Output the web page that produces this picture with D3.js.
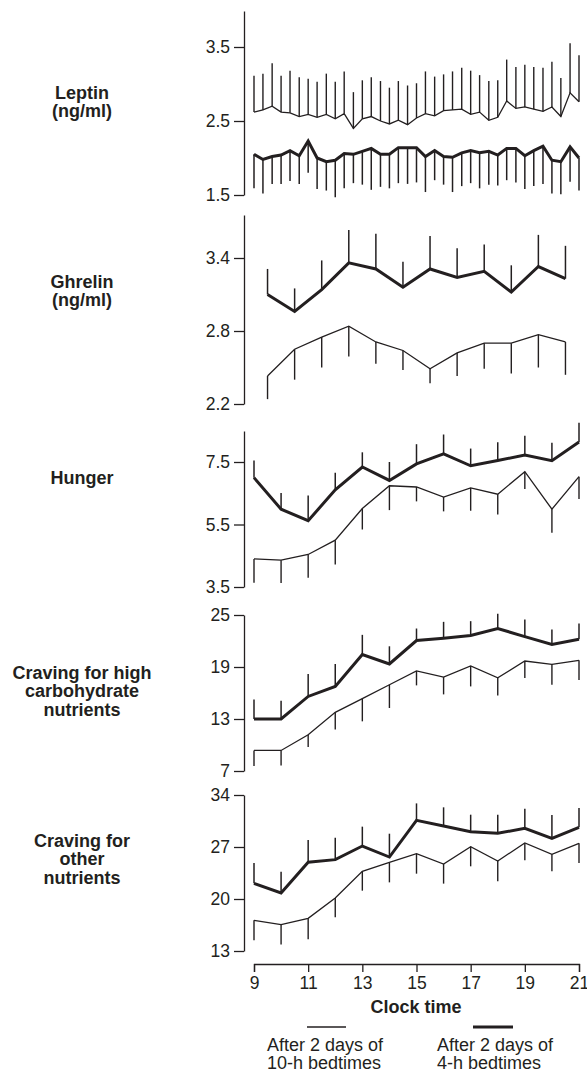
<!DOCTYPE html>
<html>
<head>
<meta charset="utf-8">
<script src="https://cdn.jsdelivr.net/npm/d3@7"></script>
<style>
  body { margin: 0; background: #fff; }
  svg { display: block; font-family: "Liberation Sans", Arial, Helvetica, sans-serif; }
  .tick text { font-size: 17.5px; fill: #231f20; }
  .tick line, .domain { stroke: #231f20; stroke-width: 1.3; }
  .title { font-size: 18px; font-weight: bold; fill: #231f20; }
  .legend { font-size: 18px; fill: #231f20; }
</style>
</head>
<body>
<div id="chart"></div>
<script>
// clock hours of the samples
var leptinHours = [9, 9.33, 9.67, 10, 10.33, 10.67, 11, 11.33, 11.67, 12, 12.33, 12.67,
    13, 13.33, 13.67, 14, 14.33, 14.67, 15, 15.33, 15.67, 16, 16.33, 16.67,
    17, 17.33, 17.67, 18, 18.33, 18.67, 19, 19.33, 19.67, 20, 20.33, 20.67, 21];
var ghrelinHours = [9.5, 10.5, 11.5, 12.5, 13.5, 14.5, 15.5, 16.5, 17.5, 18.5, 19.5, 20.5];
var hourlyHours = [9, 10, 11, 12, 13, 14, 15, 16, 17, 18, 19, 20, 21];
var clockTicks = [9, 11, 13, 15, 17, 19, 21];

// leptin (ng/ml)
var leptin10 = [2.62, 2.65, 2.70, 2.62, 2.61, 2.56, 2.59, 2.55, 2.59, 2.53, 2.60, 2.40,
    2.53, 2.56, 2.50, 2.46, 2.51, 2.45, 2.54, 2.60, 2.57, 2.64, 2.65, 2.66,
    2.59, 2.62, 2.51, 2.55, 2.77, 2.67, 2.69, 2.66, 2.63, 2.69, 2.56, 2.88, 2.76];
var leptin10Sem = [0.49, 0.49, 0.58, 0.49, 0.57, 0.53, 0.48, 0.48, 0.55, 0.50, 0.57, 0.49,
    0.52, 0.53, 0.54, 0.49, 0.53, 0.53, 0.47, 0.57, 0.53, 0.49, 0.52, 0.56,
    0.59, 0.50, 0.53, 0.50, 0.56, 0.56, 0.57, 0.57, 0.59, 0.61, 0.52, 0.67, 0.63];
var leptin4 = [2.05, 1.98, 2.02, 2.04, 2.10, 2.03, 2.23, 2.00, 1.95, 1.97, 2.06, 2.05,
    2.09, 2.13, 2.05, 2.05, 2.14, 2.14, 2.14, 2.02, 2.10, 2.02, 2.01, 2.07,
    2.10, 2.07, 2.09, 2.04, 2.13, 2.13, 2.03, 2.10, 2.16, 1.97, 1.95, 2.15, 2.00];
var leptin4Sem = [0.46, 0.46, 0.37, 0.39, 0.41, 0.38, 0.43, 0.42, 0.39, 0.50, 0.47, 0.39,
    0.45, 0.56, 0.44, 0.46, 0.48, 0.49, 0.47, 0.48, 0.40, 0.38, 0.47, 0.45,
    0.44, 0.48, 0.45, 0.41, 0.43, 0.46, 0.45, 0.48, 0.51, 0.45, 0.44, 0.47, 0.44];

// ghrelin (ng/ml)
var ghrelin10 = [2.43, 2.65, 2.75, 2.84, 2.71, 2.64, 2.49, 2.62, 2.70, 2.70, 2.77, 2.71];
var ghrelin10Sem = [0.19, 0.25, 0.25, 0.25, 0.18, 0.16, 0.12, 0.19, 0.21, 0.25, 0.27, 0.27];
var ghrelin4 = [3.10, 2.96, 3.14, 3.36, 3.31, 3.16, 3.31, 3.24, 3.29, 3.12, 3.33, 3.23];
var ghrelin4Sem = [0.21, 0.19, 0.24, 0.27, 0.29, 0.21, 0.27, 0.24, 0.22, 0.22, 0.26, 0.27];

// hunger
var hunger10 = [4.40, 4.36, 4.54, 5.00, 6.01, 6.74, 6.70, 6.38, 6.67, 6.47, 7.19, 5.99, 7.03];
var hunger10Sem = [0.76, 0.73, 0.74, 0.78, 0.67, 0.78, 0.46, 0.46, 0.73, 0.65, 0.55, 0.75, 0.71];
var hunger4 = [7.00, 5.99, 5.62, 6.61, 7.34, 6.91, 7.44, 7.76, 7.38, 7.55, 7.72, 7.54, 8.14];
var hunger4Sem = [0.55, 0.52, 0.81, 0.55, 0.47, 0.59, 0.63, 0.62, 0.55, 0.58, 0.62, 0.58, 0.62];

// craving for high carbohydrate nutrients
var carb10 = [9.37, 9.37, 11.19, 13.77, 15.36, 16.95, 18.54, 17.84, 19.12, 17.76, 19.69, 19.31, 19.77];
var carb10Sem = [1.78, 1.74, 1.43, 1.97, 2.63, 2.68, 1.66, 2.00, 2.36, 2.04, 1.96, 2.36, 2.28];
var carb4 = [13.0, 13.0, 15.60, 16.76, 20.43, 19.35, 22.05, 22.32, 22.63, 23.44, 22.51, 21.59, 22.20];
var carb4Sem = [2.24, 2.12, 2.59, 2.59, 2.28, 2.04, 1.39, 1.89, 1.66, 1.70, 1.97, 1.73, 1.82];

// craving for other nutrients
var other10 = [17.13, 16.55, 17.40, 20.13, 23.72, 24.93, 26.10, 24.71, 27.04, 25.12, 27.54, 26.01, 27.49];
var other10Sem = [2.69, 2.69, 2.83, 2.60, 2.60, 2.69, 2.69, 2.64, 2.64, 2.74, 2.33, 2.29, 2.64];
var other4 = [22.11, 20.81, 24.94, 25.30, 27.13, 25.65, 30.59, 29.83, 29.06, 28.84, 29.51, 28.17, 29.65];
var other4Sem = [2.74, 2.87, 3.00, 2.96, 2.61, 3.14, 2.28, 2.51, 2.29, 2.51, 2.65, 3.13, 2.60];

var ink = "#231f20";

var svg = d3.select("#chart")
    .append("svg")
    .attr("width", 587)
    .attr("height", 1072);

var x = d3.scaleLinear().domain([9, 21]).range([254, 579]);

// each panel: its own y scale, from the bottom tick pixel up to the axis top
var panels = [
    { title: ["Leptin", "(ng/ml)"], titleY: 99, ticks: [1.5, 2.5, 3.5], top: 11, bottom: 195, yTop: 47,
      hours: leptinHours, a: leptin10, aSem: leptin10Sem, b: leptin4, bSem: leptin4Sem },
    { title: ["Ghrelin", "(ng/ml)"], titleY: 288, ticks: [2.2, 2.8, 3.4], top: 215, bottom: 404, yTop: 258,
      hours: ghrelinHours, a: ghrelin10, aSem: ghrelin10Sem, b: ghrelin4, bSem: ghrelin4Sem },
    { title: ["Hunger"], titleY: 484, ticks: [3.5, 5.5, 7.5], top: 431, bottom: 587, yTop: 462,
      hours: hourlyHours, a: hunger10, aSem: hunger10Sem, b: hunger4, bSem: hunger4Sem },
    { title: ["Craving for high", "carbohydrate", "nutrients"], titleY: 679, ticks: [7, 13, 19, 25], top: 615, bottom: 771, yTop: 615,
      hours: hourlyHours, a: carb10, aSem: carb10Sem, b: carb4, bSem: carb4Sem },
    { title: ["Craving for", "other", "nutrients"], titleY: 847, ticks: [13, 20, 27, 34], top: 795, bottom: 951, yTop: 795,
      hours: hourlyHours, a: other10, aSem: other10Sem, b: other4, bSem: other4Sem }
];

panels.forEach(function (p) {
    var lo = p.ticks[0];
    var hi = p.ticks[p.ticks.length - 1];
    var pxPerUnit = (p.bottom - p.yTop) / (hi - lo);
    var domTop = hi + (p.yTop - p.top) / pxPerUnit;
    var y = d3.scaleLinear().domain([lo, domTop]).range([p.bottom, p.top]);

    var g = svg.append("g");

    g.append("g")
        .attr("transform", "translate(244,0)")
        .call(d3.axisLeft(y).tickValues(p.ticks).tickSize(10).tickSizeOuter(0).tickPadding(4)
            .tickFormat(function (d) { return (d % 1 === 0 && lo % 1 === 0) ? d : d3.format(".1f")(d); }))
        .call(function (s) { s.selectAll("text").attr("font-family", null).attr("font-size", null); });

    // title
    var t = g.append("text")
        .attr("class", "title")
        .attr("text-anchor", "middle")
        .attr("x", 82)
        .attr("y", p.titleY);
    p.title.forEach(function (line, i) {
        t.append("tspan").attr("x", 82).attr("dy", i === 0 ? 0 : 18.3).text(line);
    });

    var line = d3.line()
        .x(function (d) { return x(d[0]); })
        .y(function (d) { return y(d[1]); });

    // 10-h bedtimes: thin line
    var aPts = p.hours.map(function (h, i) { return [h, p.a[i], p.aSem[i]]; });
    // 4-h bedtimes: thick line
    var bPts = p.hours.map(function (h, i) { return [h, p.b[i], p.bSem[i]]; });

    // bars point away from the other series
    var aDir = p.title[0] === "Leptin" ? 1 : -1;
    var bDir = -aDir;

    g.selectAll(".barA")
        .data(aPts)
        .enter()
        .append("line")
        .attr("x1", function (d) { return x(d[0]); })
        .attr("x2", function (d) { return x(d[0]); })
        .attr("y1", function (d) { return y(d[1]); })
        .attr("y2", function (d) { return y(d[1] + aDir * d[2]); })
        .attr("stroke", ink)
        .attr("stroke-width", 1.4);

    g.selectAll(".barB")
        .data(bPts)
        .enter()
        .append("line")
        .attr("x1", function (d) { return x(d[0]); })
        .attr("x2", function (d) { return x(d[0]); })
        .attr("y1", function (d) { return y(d[1]); })
        .attr("y2", function (d) { return y(d[1] + bDir * d[2]); })
        .attr("stroke", ink)
        .attr("stroke-width", 1.5);

    g.append("path")
        .datum(aPts)
        .attr("fill", "none")
        .attr("stroke", ink)
        .attr("stroke-width", 1.3)
        .attr("d", line);

    g.append("path")
        .datum(bPts)
        .attr("fill", "none")
        .attr("stroke", ink)
        .attr("stroke-width", 3)
        .attr("d", line);
});

// x axis
svg.append("g")
    .attr("transform", "translate(0,964)")
    .call(d3.axisBottom(x).tickValues(clockTicks).tickSize(8).tickSizeOuter(8).tickPadding(5))
    .call(function (s) { s.selectAll("text").attr("font-family", null).attr("font-size", null); });

svg.append("text")
    .attr("class", "title")
    .attr("text-anchor", "middle")
    .attr("x", 416)
    .attr("y", 1013)
    .text("Clock time");

// legend
var legendItems = [
    { x: 267, x1: 307, x2: 346, width: 1.3, lines: ["After 2 days of", "10-h bedtimes"] },
    { x: 437, x1: 473, x2: 513, width: 3, lines: ["After 2 days of", "4-h bedtimes"] }
];
legendItems.forEach(function (it) {
    svg.append("line")
        .attr("x1", it.x1).attr("x2", it.x2)
        .attr("y1", 1027).attr("y2", 1027)
        .attr("stroke", ink)
        .attr("stroke-width", it.width);
    var t = svg.append("text")
        .attr("class", "legend")
        .attr("x", it.x)
        .attr("y", 1051);
    it.lines.forEach(function (l, i) {
        t.append("tspan").attr("x", it.x).attr("dy", i === 0 ? 0 : 18).text(l);
    });
});
</script>
</body>
</html>
